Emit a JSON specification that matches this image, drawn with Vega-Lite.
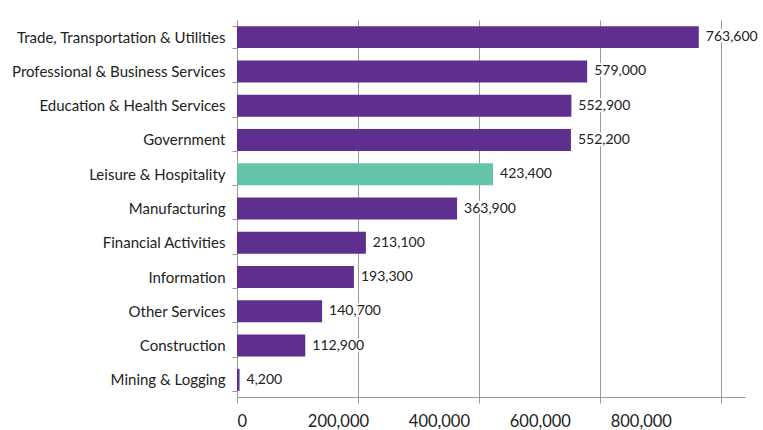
{
  "$schema": "https://vega.github.io/schema/vega-lite/v6.json",
  "width": 508,
  "height": 377,
  "autosize": "none",
  "padding": {"left": 237, "top": 20, "right": 18, "bottom": 33},
  "background": "white",
  "config": {"view": {"stroke": null}},
  "data": {
    "values": [
      {"industry": "Trade, Transportation & Utilities", "jobs": 763600, "highlight": "no"},
      {"industry": "Professional & Business Services", "jobs": 579000, "highlight": "no"},
      {"industry": "Education & Health Services", "jobs": 552900, "highlight": "no"},
      {"industry": "Government", "jobs": 552200, "highlight": "no"},
      {"industry": "Leisure & Hospitality", "jobs": 423400, "highlight": "yes"},
      {"industry": "Manufacturing", "jobs": 363900, "highlight": "no"},
      {"industry": "Financial Activities", "jobs": 213100, "highlight": "no"},
      {"industry": "Information", "jobs": 193300, "highlight": "no"},
      {"industry": "Other Services", "jobs": 140700, "highlight": "no"},
      {"industry": "Construction", "jobs": 112900, "highlight": "no"},
      {"industry": "Mining & Logging", "jobs": 4200, "highlight": "no"}
    ]
  },
  "encoding": {
    "y": {
      "field": "industry",
      "type": "nominal",
      "sort": null,
      "scale": {"paddingInner": 0.36, "paddingOuter": 0.18},
      "axis": {
        "title": null,
        "grid": false,
        "domainColor": "#999999",
        "tickColor": "#999999",
        "tickSize": 5,
        "tickBand": "extent",
        "labelPadding": 7,
        "labelFont": "Lato",
        "labelFontSize": 15,
        "labelColor": "#222222",
        "labelLimit": 300
      }
    },
    "x": {
      "field": "jobs",
      "type": "quantitative",
      "scale": {"domain": [0, 840000], "nice": false},
      "axis": {
        "title": null,
        "values": [0, 200000, 400000, 600000, 800000],
        "labelExpr": "format(datum.value, ',')",
        "grid": true,
        "gridColor": "#999999",
        "gridWidth": 1,
        "domainColor": "#999999",
        "tickColor": "#999999",
        "tickSize": 6,
        "labelFont": "Lato",
        "labelFontSize": 16.5,
        "labelColor": "#222222",
        "labelPadding": 10,
        "labelOffset": {"expr": "-datum.value/10000"}
      }
    }
  },
  "layer": [
    {
      "mark": {"type": "bar"},
      "encoding": {
        "color": {
          "field": "highlight",
          "type": "nominal",
          "scale": {"domain": ["no", "yes"], "range": ["#5E2F8E", "#63C4A9"]},
          "legend": null
        }
      }
    },
    {
      "mark": {"type": "text", "align": "left", "dx": 7, "font": "Lato", "fontSize": 14, "color": "white", "stroke": "white", "strokeWidth": 4},
      "encoding": {"text": {"field": "jobs", "type": "quantitative", "format": ","}}
    },
    {
      "mark": {"type": "text", "align": "left", "dx": 7, "font": "Lato", "fontSize": 14, "color": "#222222"},
      "encoding": {"text": {"field": "jobs", "type": "quantitative", "format": ","}}
    }
  ]
}
